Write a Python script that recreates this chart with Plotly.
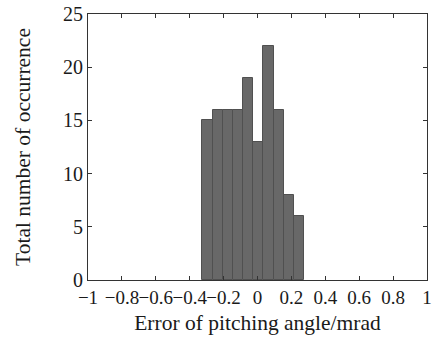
import plotly.graph_objects as go

bin_centers = [-0.295, -0.235, -0.175, -0.115, -0.055, 0.005, 0.065, 0.125, 0.185, 0.245]
counts = [15, 16, 16, 16, 19, 13, 22, 16, 8, 6]
x_ticks = [-1, -0.8, -0.6, -0.4, -0.2, 0, 0.2, 0.4, 0.6, 0.8, 1]
x_tick_labels = ["\u22121", "\u22120.8", "\u22120.6", "\u22120.4", "\u22120.2", "0", "0.2", "0.4", "0.6", "0.8", "1"]
y_ticks = [0, 5, 10, 15, 20, 25]

fig = go.Figure(go.Bar(
    x=bin_centers, y=counts, width=0.06,
    marker=dict(color="#686868", line=dict(color="#505050", width=1)),
))

fam = "Liberation Serif, Times New Roman, serif"
fig.update_layout(
    width=438, height=343,
    margin=dict(l=88, r=11, t=14, b=63),
    paper_bgcolor="white", plot_bgcolor="white",
    font=dict(family=fam, size=20, color="#1a1a1a"), showlegend=False, bargap=0,
)
axis_common = dict(showline=True, linecolor="#333333", linewidth=1, mirror="ticks",
                   ticks="inside", ticklen=4, tickcolor="#333333", showgrid=False,
                   zeroline=False, automargin=False)
fig.update_xaxes(range=[-1, 1], tickvals=x_ticks, ticktext=x_tick_labels,
                 tickfont=dict(size=19), tickangle=0,
                 title=dict(text="Error of pitching angle/mrad", standoff=8, font=dict(size=21.5)),
                 **axis_common)
fig.update_yaxes(range=[0, 25], tickvals=y_ticks, tickfont=dict(size=20),
                 title=dict(text="Total number of occurrence", standoff=26, font=dict(size=21.5)),
                 **axis_common)

fig.write_html("out.html")
